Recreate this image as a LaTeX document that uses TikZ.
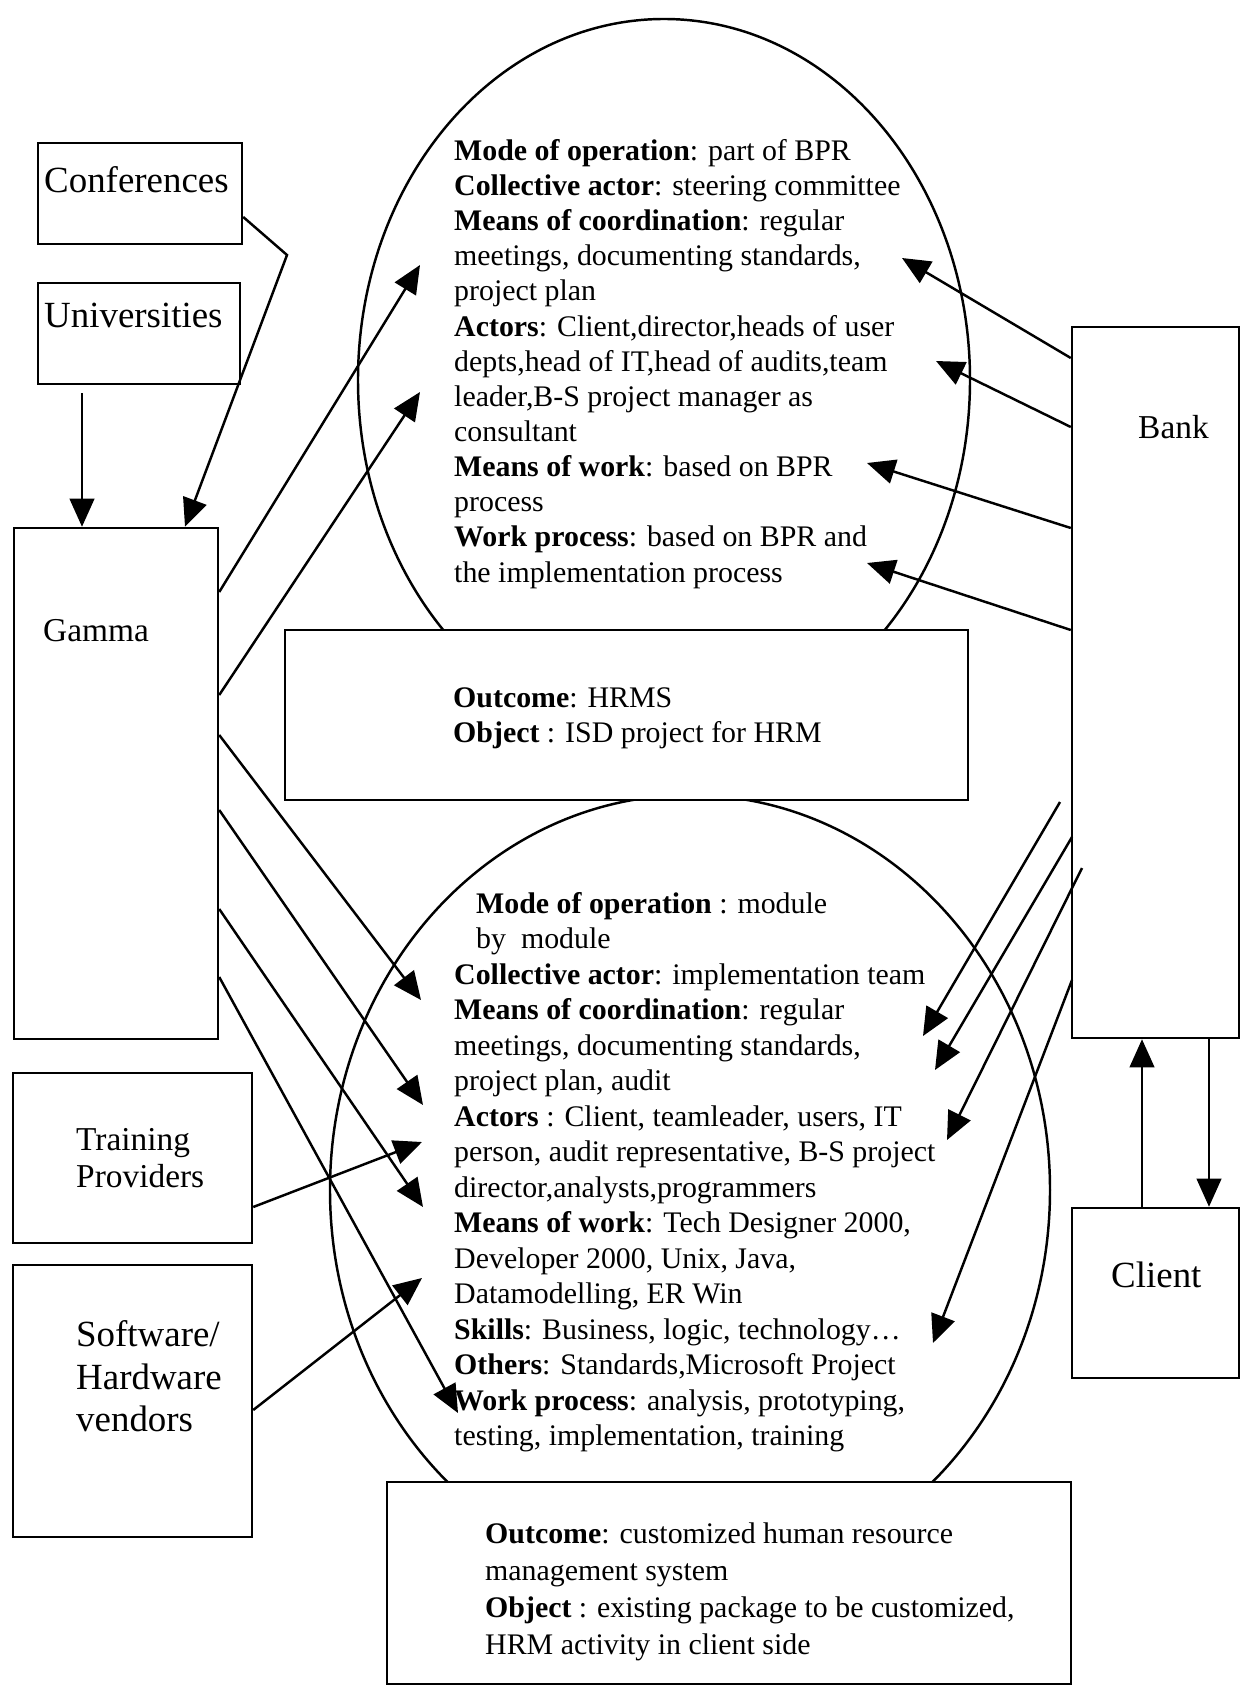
\documentclass[tikz,border=0pt]{standalone}
\usepackage{fontspec}
\setmainfont{Liberation Serif}
\usetikzlibrary{arrows.meta,shapes.geometric}

\tikzset{
  box/.style={draw, fill=white, inner sep=0pt},
  oval/.style={draw, ellipse, inner sep=0pt},
  arr/.style={-{Triangle[length=16pt,width=14pt]}},
  body/.style={anchor=north west, inner sep=0pt, align=left},
  lab/.style={anchor=north west, inner sep=0pt, align=left, font=\fontsize{21}{24.4}\selectfont},
  labs/.style={anchor=north west, inner sep=0pt, align=left, font=\fontsize{19}{21}\selectfont},
}

\begin{document}
\begin{tikzpicture}[x=0.2mm, y=-0.2mm, line width=1.4pt]
  \useasboundingbox (0,0) rectangle (1241,1688);

  % the two activities
  \node[oval, minimum width=122.4mm, minimum height=144.4mm] (upper) at (664,380) {};
  \node[oval, minimum width=144mm, minimum height=158mm] (lower) at (690,1190) {};

  % boxes
  \node[box, minimum width=40.8mm, minimum height=20.2mm] (conf) at (140,193.5) {};
  \node[box, minimum width=40.4mm, minimum height=20.2mm] (univ) at (139,333.5) {};
  \node[box, minimum width=40.8mm, minimum height=102.2mm] (gamma) at (116,783.5) {};
  \node[box, minimum width=47.8mm, minimum height=34mm] (train) at (132.5,1158) {};
  \node[box, minimum width=47.8mm, minimum height=54.4mm] (soft) at (132.5,1401) {};
  \node[box, minimum width=33.4mm, minimum height=142.2mm] (bank) at (1155.5,682.5) {};
  \node[box, minimum width=33.4mm, minimum height=34mm] (client) at (1155.5,1293) {};
  \node[box, minimum width=136.6mm, minimum height=34mm] (outa) at (626.5,715) {};
  \node[box, minimum width=136.8mm, minimum height=40.4mm] (outb) at (729,1583) {};

  % box labels
  \node[lab] (conft) at (43,165) {Conferences};
  \node[lab] (univt) at (43,302) {Universities};
  \node[labs] (gammat) at (42,618) {Gamma};
  \node[labs] (bankt) at (1137,414) {Bank};
  \node[lab] (clientt) at (1110,1261) {Client};
  \node[labs] (traint) at (75,1127) {Training\\Providers};
  \node[lab] (softt) at (75,1319) {Software/\\Hardware\\vendors};

  % inputs of Gamma
  \coordinate (ck) at (287,255);
  \draw[arr] (conf.east |- 0,217) -- (ck) -- (gamma.north -| 185,0);
  \coordinate (u0) at (82,393);
  \draw[arr] (u0) -- (u0 |- gamma.north);

  % Gamma to the activities
  \foreach \i/\ys/\xt/\yt in {1/592/420/265, 2/695/420/392} {
    \coordinate (ga\i) at (\xt,\yt);
    \draw[arr] (gamma.east |- 0,\ys) -- (ga\i);
  }
  \foreach \i/\ys/\xt/\yt in {1/735/421/1000, 2/810/423/1105, 3/909/423/1207, 4/977/458/1413} {
    \coordinate (gb\i) at (\xt,\yt);
    \draw[arr] (gamma.east |- 0,\ys) -- (gb\i);
  }

  % suppliers
  \coordinate (ta) at (422,1142);
  \draw[arr] (train.east |- 0,1207) -- (ta);
  \coordinate (sa) at (422,1278);
  \draw[arr] (soft.east |- 0,1410) -- (sa);

  % Bank to the activities
  \foreach \i/\ys/\xt/\yt in {1/358/902/258, 2/427/936/361, 3/528/867/463, 4/630/867/563} {
    \coordinate (ba\i) at (\xt,\yt);
    \draw[arr] (bank.west |- 0,\ys) -- (ba\i);
  }
  \foreach \i/\xs/\ys/\xt/\yt in {1/1060/802/923/1036, 2/1072/837/935/1070, 3/1082/868/947/1140, 4/1072/980/933/1343} {
    \coordinate (bs\i) at (\xs,\ys);
    \coordinate (bb\i) at (\xt,\yt);
    \draw[arr] (bs\i) -- (bb\i);
  }

  % Bank and Client
  \draw[arr] (client.north -| 1142,0) -- (bank.south -| 1142,0);
  \draw[arr] (bank.south -| 1209,0) -- (client.north -| 1209,0);

  % texts
  \node[body, font=\fontsize{17}{20}\selectfont] (uppert) at (453,138) {%
    \textbf{Mode of operation}: part of BPR\\
    \textbf{Collective actor}: steering committee\\
    \textbf{Means of coordination}: regular\\
    meetings, documenting standards,\\
    project plan\\
    \textbf{Actors}: Client,director,heads of user\\
    depts,head of IT,head of audits,team\\
    leader,B-S project manager as\\
    consultant\\
    \textbf{Means of work}: based on BPR\\
    process\\
    \textbf{Work process}: based on BPR and\\
    the implementation process};
  \node[body, font=\fontsize{17}{20.4}\selectfont] (outat) at (452,686) {%
    \textbf{Outcome}: HRMS\\
    \textbf{Object} : ISD project for HRM};
  \node[body, font=\fontsize{17}{20.2}\selectfont] (lowert) at (453,891) {%
    \hspace*{12.5pt}\textbf{Mode of operation} : module\\
    \hspace*{12.5pt}by\ \ module\\
    \textbf{Collective actor}: implementation team\\
    \textbf{Means of coordination}: regular\\
    meetings, documenting standards,\\
    project plan, audit\\
    \textbf{Actors} : Client, teamleader, users, IT\\
    person, audit representative, B-S project\\
    director,analysts,programmers\\
    \textbf{Means of work}: Tech Designer 2000,\\
    Developer 2000, Unix, Java,\\
    Datamodelling, ER Win\\
    \textbf{Skills}: Business, logic, technology\ldots\\
    \textbf{Others}: Standards,Microsoft Project\\
    \textbf{Work process}: analysis, prototyping,\\
    testing, implementation, training};
  \node[body, font=\fontsize{17}{21}\selectfont] (outbt) at (484,1522) {%
    \textbf{Outcome}: customized human resource\\
    management system\\
    \textbf{Object} : existing package to be customized,\\
    HRM activity in client side};
\end{tikzpicture}
\end{document}
